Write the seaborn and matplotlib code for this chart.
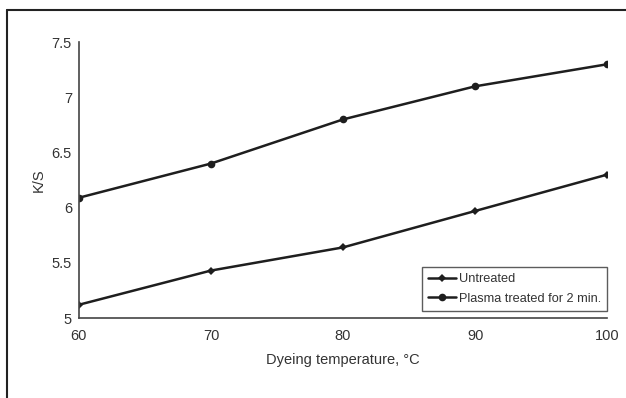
import matplotlib
matplotlib.use("Agg")
import matplotlib.pyplot as plt
from matplotlib.lines import Line2D
import seaborn as sns
import pandas as pd

temperature = [60, 70, 80, 90, 100]
untreated = [5.12, 5.43, 5.64, 5.97, 6.30]
plasma_2min = [6.09, 6.40, 6.80, 7.10, 7.30]
series_names = ["Untreated", "Plasma treated for 2 min."]
y_ticks = [5, 5.5, 6, 6.5, 7, 7.5]
y_tick_labels = ["5", "5.5", "6", "6.5", "7", "7.5"]

sns.set_theme(style="white")
plt.rcParams["font.family"] = ["Liberation Sans Narrow", "Liberation Sans", "DejaVu Sans"]

df = pd.DataFrame({
    "temperature": temperature * 2,
    "ks": untreated + plasma_2min,
    "series": [series_names[0]] * len(temperature) + [series_names[1]] * len(temperature),
})

ink = "#1e1e1e"
text_col = "#333333"

fig = plt.figure(figsize=(6.26, 3.98), dpi=100)
ax = fig.add_axes([0.126, 0.201, 0.844, 0.693])

sns.lineplot(
    data=df, x="temperature", y="ks", hue="series", style="series",
    palette=[ink, ink], markers=["D", "o"], dashes=False,
    markersize=5, markeredgewidth=0, linewidth=1.8, ax=ax, legend=False,
)
# slightly smaller marker for the untreated series
for line, ms in zip(ax.lines, [4.5, 5.5]):
    line.set_markersize(ms)

ax.set_xlim(60, 100)
ax.set_ylim(5, 7.5)
ax.set_xticks(temperature)
ax.set_xticklabels([str(t) for t in temperature])
ax.set_yticks(y_ticks)
ax.set_yticklabels(y_tick_labels)

for side in ["top", "right"]:
    ax.spines[side].set_visible(False)
for side in ["left", "bottom"]:
    ax.spines[side].set_color("#444444")
    ax.spines[side].set_linewidth(1.2)

ax.tick_params(axis="both", direction="out", length=3, width=0.9, color="#444444",
               labelsize=10.5, labelcolor=text_col, pad=2)
ax.tick_params(axis="x", pad=5)

ax.set_xlabel("Dyeing temperature, \u00b0C", fontsize=10.5, color=text_col, labelpad=7)
ax.set_ylabel("K/S", fontsize=10.5, color=text_col, labelpad=4)

handles = [
    Line2D([], [], color=ink, marker="D", markersize=4.5, linewidth=1.8, markeredgewidth=0),
    Line2D([], [], color=ink, marker="o", markersize=5.5, linewidth=1.8, markeredgewidth=0),
]
leg = ax.legend(handles, series_names, loc="lower right", bbox_to_anchor=(1.0, 0.025),
                fontsize=9.2, frameon=True, fancybox=False, handlelength=2.2,
                handletextpad=0.2, borderpad=0.5, labelspacing=0.6, borderaxespad=0)
leg.get_frame().set_edgecolor("#333333")
leg.get_frame().set_linewidth(1.0)
for t in leg.get_texts():
    t.set_color(text_col)

# outer frame: left and top edges
fig.add_artist(Line2D([0.0112, 0.0112], [0.0, 0.975], transform=fig.transFigure,
                      color="#222222", linewidth=1.5))
fig.add_artist(Line2D([0.0112, 1.0], [0.975, 0.975], transform=fig.transFigure,
                      color="#222222", linewidth=1.5))

fig.savefig("out.png", dpi=100)
